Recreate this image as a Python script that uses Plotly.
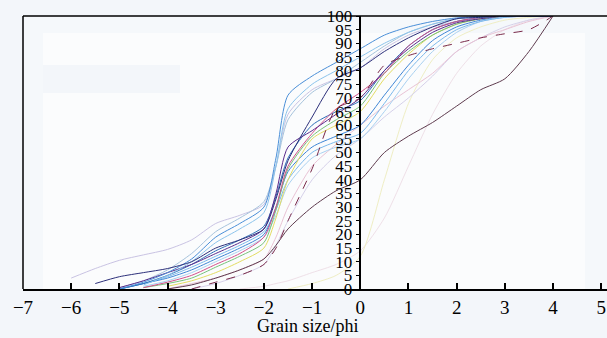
import plotly.graph_objects as go

# phi grid (Grain size, phi units)
phi = [-6, -5.5, -5, -4.5, -4, -3.5, -3, -2.5, -2, -1.75, -1.5, -1, -0.5, 0, 0.5, 1, 1.5, 2, 2.5, 3, 3.5, 4]
N = None

# cumulative percentage curves
lavender = [4, 7.5, 10.5, 12.5, 14.5, 18, 24, 27, 31, 45, 64, 73, 77, 81, 88, 93, 96, 98, 99, 99.5, 100, 100]
top_blue = [N, N, 0, 2.5, 6, 11, 19, 24, 30, 48, 71, 78, 83, 88, 93, 96, 98, 99.3, 99.8, 100, 100, 100]
light_blue2 = [N, N, N, 1.5, 5, 10, 17, 22, 28, 45, 66, 75, 80, 85, 90, 94, 97, 99, 99.5, 100, 100, 100]
gray_blue = [N, N, 0.5, 3, 7, 13, 21, 26, 32, 45, 62, 72, 77, 83, 89, 94, 97, 99, 99.8, 100, 100, 100]
navy = [N, 2, 4.5, 6, 7.5, 10, 15, 18, 22, 33, 47, 63, 77, 81, 87, 92, 96, 99, 99.5, 100, 100, 100]
purple = [N, N, 0.5, 3, 6, 9, 13, 17, 22, 35, 52, 58, 64, 70, 80, 88, 94, 97.5, 99, 100, 100, 100]
magenta = [N, N, N, 0.5, 2.5, 5, 9, 13, 19, 30, 45, 57, 66, 72, 79, 89, 95, 98, 99.5, 100, 100, 100]
yellow = [N, N, N, N, 1, 3, 6, 10, 15, 26, 40, 55, 60, 65, 77, 86, 93, 97, 99, 100, 100, 100]
green = [N, N, N, 0.5, 2, 4, 8, 12, 17, 29, 44, 56, 62, 67, 79, 87, 93, 97, 99, 100, 100, 100]
teal = [N, N, 0, 2, 5, 9, 14, 18, 23, 34, 48, 60, 65, 69, 80, 89, 95, 98, 99.5, 100, 100, 100]
blue_mid = [N, N, 0, 2, 4, 7, 11, 15, 20, 30, 43, 52, 56, 60, 71, 82, 91, 96, 98.5, 100, 100, 100]
light_blue = [N, N, 0, 2, 4.5, 8, 12, 16, 21, 29, 40, 50, 54, 57, 68, 80, 89, 95, 98, 99.5, 100, 100]
sky_pale = [N, N, N, 1, 3, 6, 10, 14, 19, 27, 38, 48, 52, 55, 65, 77, 87, 94, 98, 99.5, 100, 100]
light_pink = [N, N, N, N, 0, 2, 4, 7, 11, 19, 30, 45, 53, 60, 67, 73, 79, 87, 92, 95, 98, 100]
pale_lavender = [N, N, N, N, N, 0, 2, 5, 9, 16, 25, 40, 49, 55, 63, 70, 78, 87, 92, 96, 98.5, 100]
pale_yellow = [N, N, N, N, N, N, N, N, N, N, 0, 2, 5, 12, 40, 68, 84, 92, 96, 98.5, 99.5, 100]
faint_pink = [N, N, N, N, N, N, N, 0, 1, 2, 3, 6, 9, 14, 26, 45, 64, 79, 89, 95, 98.5, 100]
brown = [N, N, N, N, 0, 1.5, 4, 7, 11, 16, 22, 30, 36, 40, 50, 56, 61, 67, 73, 77, 87, 100]
maroon = [N, N, N, N, N, 0, 2.5, 5, 9, 15, 25, 44, 66, 70, 82, 85.5, 88, 90, 92, 93.5, 95, 100]

series = [
    (lavender, "#c9c3e3", "solid"),
    (faint_pink, "#efe0e8", "solid"),
    (pale_yellow, "#efeec4", "solid"),
    (pale_lavender, "#d6d1ea", "solid"),
    (light_pink, "#e9c3d5", "solid"),
    (sky_pale, "#a9d1f1", "solid"),
    (gray_blue, "#a6c3dc", "solid"),
    (light_blue, "#7bb9ec", "solid"),
    (blue_mid, "#3f86d6", "solid"),
    (yellow, "#e3dc62", "solid"),
    (green, "#78c27a", "solid"),
    (teal, "#2f6fb8", "solid"),
    (magenta, "#d2508a", "solid"),
    (purple, "#5b2c8c", "solid"),
    (light_blue2, "#8cc4ec", "solid"),
    (top_blue, "#4a8fd8", "solid"),
    (navy, "#2c2f7a", "solid"),
    (brown, "#5e3b4e", "solid"),
    (maroon, "#7a2a4a", "dash"),
]

x_ticks = [-7, -6, -5, -4, -3, -2, -1, 0, 1, 2, 3, 4, 5]
y_ticks = list(range(0, 101, 5))

SERIF = "Liberation Serif"

fig = go.Figure()
for vals, col, dash in series:
    fig.add_trace(go.Scatter(
        x=phi, y=vals, mode="lines",
        line=dict(color=col, width=1, shape="spline", smoothing=0.7, dash=dash),
        connectgaps=False, showlegend=False, hoverinfo="skip"))

x0, x1 = -7, 5.12
fig.update_layout(
    width=607, height=338,
    margin=dict(l=23, r=0, t=16, b=49),
    paper_bgcolor="#f3f6fa",
    plot_bgcolor="#f5f8fb",
    showlegend=False,
    font=dict(family=SERIF, color="black"),
    xaxis=dict(
        range=[x0, x1], tickvals=x_ticks,
        ticktext=[("\u2212" + str(-t)) if t < 0 else str(t) for t in x_ticks],
        ticks="inside", ticklen=6, tickwidth=1.5, tickcolor="black",
        showline=True, linecolor="black", linewidth=1.5,
        showgrid=False, zeroline=False,
        tickfont=dict(size=19, family=SERIF, color="black"),
    ),
    yaxis=dict(
        range=[0, 100], tickvals=y_ticks,
        anchor="free", position=(0 - x0) / (x1 - x0),
        ticks="outside", ticklen=4, tickwidth=1, tickcolor="black",
        showline=True, linecolor="black", linewidth=1.5,
        showgrid=False, zeroline=False,
        tickfont=dict(size=17, family=SERIF, color="black"),
    ),
    shapes=[
        dict(type="rect", xref="paper", yref="paper", x0=(43 - 23) / 584, x1=(585 - 23) / 584,
             y0=0, y1=(289 - 33) / 273, fillcolor="#fbfcfd", line=dict(width=0), layer="below"),
        dict(type="rect", xref="paper", yref="paper", x0=(43 - 23) / 584, x1=(180 - 23) / 584,
             y0=(289 - 93) / 273, y1=(289 - 65) / 273, fillcolor="#f3f6fa", line=dict(width=0), layer="below"),
        dict(type="line", xref="paper", yref="paper", x0=0, x1=0, y0=0, y1=1,
             line=dict(color="black", width=1.5)),
        dict(type="line", xref="paper", yref="paper", x0=0, x1=1, y0=1, y1=1,
             line=dict(color="black", width=1.5)),
    ],
    annotations=[
        dict(text="Grain size/phi", xref="paper", yref="paper",
             x=(307 - 23) / 584, y=-37 / 273, xanchor="center", yanchor="middle",
             showarrow=False, font=dict(size=18, family=SERIF, color="black")),
    ],
)

fig.write_html("out.html")
